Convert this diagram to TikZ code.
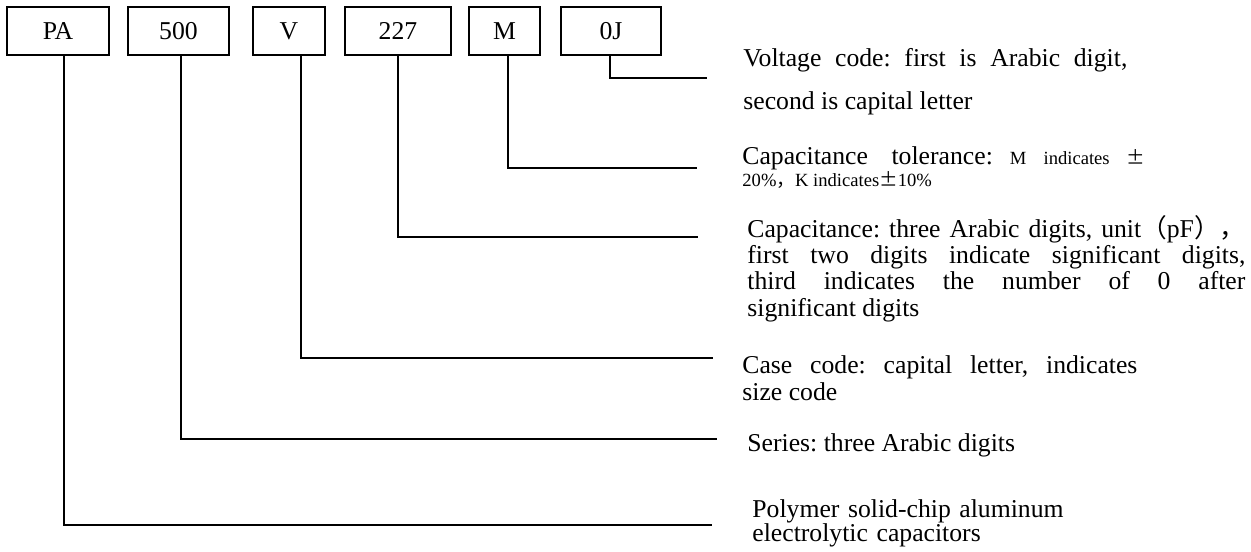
\documentclass[tikz,border=0pt]{standalone}
\usepackage{fontspec}
\setmainfont{Liberation Serif}
\newfontfamily\cjk{Noto Sans CJK SC}
\usepackage{tikz}
\frenchspacing

\begin{document}
\begin{tikzpicture}[x=0.5pt, y=-0.5pt,
    codebox/.style={draw, line width=0.7pt, minimum height=24pt, inner sep=0pt, font=\fontsize{12.85}{15}\selectfont},
    lead/.style={line width=0.7pt},
    desc/.style={anchor=base west, inner sep=0pt, font=\fontsize{12.85}{13.5}\selectfont}]
  \useasboundingbox (0,0) rectangle (1251,551);
  % Code boxes
  \foreach \name/\txt/\cx/\w in {pa/PA/58/102, ser/500/178.5/101, cas/V/289/72, cap/227/398/106, tol/M/504.5/71, vol/0J/611/100}
    \node[codebox, minimum width=\w*0.5pt] (\name) at (\cx,31) {\txt};
  % Free ends of the leads
  \coordinate (evol) at (707,78);
  \coordinate (etol) at (697,168);
  \coordinate (ecap) at (698,237);
  \coordinate (ecas) at (713,358);
  \coordinate (eser) at (717,439);
  \coordinate (epa) at (712,525);
  % Leads
  \draw[lead] ([xshift=-0.5pt]vol.south) |- (evol);
  \draw[lead] ([xshift=1.75pt]tol.south) |- (etol);
  \draw[lead] (cap.south) |- (ecap);
  \draw[lead] ([xshift=6pt]cas.south) |- (ecas);
  \draw[lead] ([xshift=1.25pt]ser.south) |- (eser);
  \draw[lead] ([xshift=3pt]pa.south) |- (epa);
  % Descriptions
  \node[desc, text width=192pt, align=justify, font=\fontsize{12.85}{21.5}\selectfont] (dvol) at (743,67)
    {Voltage code: first is Arabic digit,\linebreak second is capital letter};
  \node[desc, text width=201.5pt, align=justify, font=\fontsize{9.3}{10}\selectfont] (dtol) at (742,164)
    {{\fontsize{12.85}{10}\selectfont Capacitance tolerance:} M indicates {\cjk ±}\linebreak 20\%{\cjk ，}K indicates{\cjk ±}10\%};
  \node[desc, text width=249pt, align=justify, font=\fontsize{12.85}{13.2}\selectfont] (dcap) at (747,237)
    {Capacitance: three Arabic digits, unit{\cjk （}pF{\cjk ），}\linebreak first two digits indicate significant digits,\linebreak third indicates the number of 0 after\linebreak significant digits};
  \node[desc, text width=197.5pt, align=justify] (dcas) at (742,373)
    {Case code: capital letter, indicates\linebreak size code};
  \node[desc] (dser) at (747,451) {Series: three Arabic digits};
  \node[desc, text width=170pt, align=left, font=\fontsize{12.85}{12}\selectfont] (dpa) at (752,517)
    {Polymer solid-chip aluminum\\ electrolytic capacitors};
\end{tikzpicture}
\end{document}
